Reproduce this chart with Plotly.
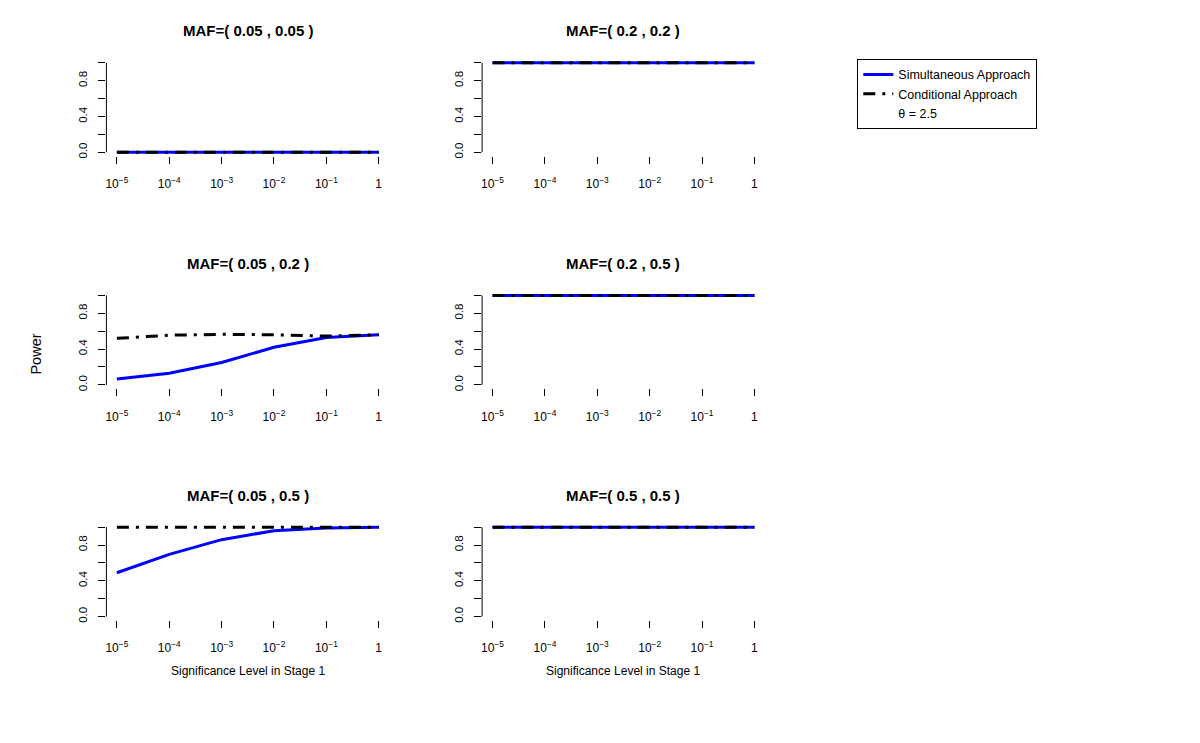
import math
import plotly.graph_objects as go

# ---------------- data ----------------
alpha = [1e-5, 1e-4, 1e-3, 1e-2, 1e-1, 1]
alpha_labels = ["10<sup>−5</sup>", "10<sup>−4</sup>", "10<sup>−3</sup>",
                "10<sup>−2</sup>", "10<sup>−1</sup>", "1"]
power_ticks = [0, 0.2, 0.4, 0.6, 0.8, 1.0]
power_labels = ["0.0", "", "0.4", "", "0.8", ""]

titles = ["MAF=( 0.05 , 0.05 )", "MAF=( 0.2 , 0.2 )",
          "MAF=( 0.05 , 0.2 )", "MAF=( 0.2 , 0.5 )",
          "MAF=( 0.05 , 0.5 )", "MAF=( 0.5 , 0.5 )"]

sim_005_005 = [0.0, 0.0, 0.0, 0.0, 0.0, 0.0]
cond_005_005 = [0.0, 0.0, 0.0, 0.0, 0.0, 0.0]
sim_02_02 = [1.0, 1.0, 1.0, 1.0, 1.0, 1.0]
cond_02_02 = [1.0, 1.0, 1.0, 1.0, 1.0, 1.0]
sim_005_02 = [0.065, 0.13, 0.25, 0.42, 0.53, 0.56]
cond_005_02 = [0.52, 0.555, 0.565, 0.56, 0.545, 0.56]
sim_02_05 = [1.0, 1.0, 1.0, 1.0, 1.0, 1.0]
cond_02_05 = [1.0, 1.0, 1.0, 1.0, 1.0, 1.0]
sim_005_05 = [0.49, 0.695, 0.86, 0.96, 0.99, 1.0]
cond_005_05 = [1.0, 1.0, 1.0, 1.0, 1.0, 1.0]
sim_05_05 = [1.0, 1.0, 1.0, 1.0, 1.0, 1.0]
cond_05_05 = [1.0, 1.0, 1.0, 1.0, 1.0, 1.0]

sim_series = [sim_005_005, sim_02_02, sim_005_02, sim_02_05, sim_005_05, sim_05_05]
cond_series = [cond_005_005, cond_02_02, cond_005_02, cond_02_05, cond_005_05, cond_05_05]

# ---------------- layout ----------------
OFF = 8                      # page body margin in the browser
W, H = 1200 - OFF, 743 - OFF
FONT = "Liberation Sans, Arial, Helvetica, sans-serif"


def px2x(px):
    return (px - OFF) / W


def py2y(py):
    return 1 - (py - OFF) / H


col_px = [(105.5, 388.5), (481.5, 764.5)]
row_px = [(59.4, 156.5), (293.0, 390.0), (525.7, 622.6)]

fig = go.Figure()
shapes = []
annotations = []

lx0, lx1 = math.log10(alpha[0]), math.log10(alpha[-1])
pad_x = 0.04 * (lx1 - lx0)

for i in range(6):
    r, c = divmod(i, 2)
    n = i + 1
    xa = "x" if n == 1 else f"x{n}"
    ya = "y" if n == 1 else f"y{n}"
    xkey = "xaxis" if n == 1 else f"xaxis{n}"
    ykey = "yaxis" if n == 1 else f"yaxis{n}"

    fig.add_trace(go.Scatter(
        x=alpha, y=sim_series[i], mode="lines",
        line=dict(color="#0000ff", width=3),
        name="Simultaneous Approach", showlegend=(i == 0),
        xaxis=xa, yaxis=ya))
    fig.add_trace(go.Scatter(
        x=alpha, y=cond_series[i], mode="lines",
        line=dict(color="black", width=3, dash="12px,7px,3px,7px"),
        name="Conditional Approach", showlegend=(i == 0),
        xaxis=xa, yaxis=ya))

    xd = [px2x(col_px[c][0]), px2x(col_px[c][1])]
    yd = [py2y(row_px[r][1]), py2y(row_px[r][0])]

    fig.layout[xkey] = dict(
        domain=xd, anchor=ya, type="log",
        range=[lx0 - pad_x, lx1 + pad_x],
        tickvals=alpha, ticktext=alpha_labels,
        ticks="outside", ticklen=7, tickwidth=1, tickcolor="black",
        showline=False, showgrid=False, zeroline=False,
        tickfont=dict(family=FONT, size=12, color="black"),
        ticklabelstandoff=10)
    fig.layout[ykey] = dict(
        domain=yd, anchor=xa,
        range=[-0.04, 1.04],
        tickvals=power_ticks, ticktext=power_labels, tickangle=-90,
        ticks="outside", ticklen=7, tickwidth=1, tickcolor="black",
        showline=False, showgrid=False, zeroline=False,
        tickfont=dict(family=FONT, size=11.5, color="black"),
        ticklabelstandoff=7)

    # R-style axis lines spanning first to last tick
    shapes.append(dict(type="line", xref=xa, yref=f"{ya} domain",
                       x0=lx0, x1=lx1, y0=0, y1=0,
                       line=dict(color="black", width=1)))
    shapes.append(dict(type="line", xref=f"{xa} domain", yref=ya,
                       x0=0, x1=0, y0=power_ticks[0], y1=power_ticks[-1],
                       line=dict(color="black", width=1)))

    annotations.append(dict(
        text="<b>" + titles[i] + "</b>", xref=f"{xa} domain", x=0.5,
        yref="paper", y=py2y(row_px[r][0] - 28.5),
        xanchor="center", yanchor="middle", showarrow=False,
        font=dict(family=FONT, size=15, color="black")))

# legend-only entry for theta
fig.add_trace(go.Scatter(x=[None], y=[None], mode="lines",
                         line=dict(color="rgba(0,0,0,0)", width=3),
                         name="θ = 2.5", showlegend=True))

for c in range(2):
    annotations.append(dict(
        text="Significance Level in Stage 1", xref="paper",
        x=px2x((col_px[c][0] + col_px[c][1]) / 2),
        yref="paper", y=py2y(674), xanchor="center", yanchor="middle",
        showarrow=False, font=dict(family=FONT, size=12, color="black")))

annotations.append(dict(
    text="Power", xref="paper", x=px2x(35), yref="paper", y=py2y(355),
    xanchor="center", yanchor="middle", textangle=-90, showarrow=False,
    font=dict(family=FONT, size=14.5, color="black")))

fig.update_layout(
    width=W, height=H,
    margin=dict(l=0, r=0, t=0, b=0),
    paper_bgcolor="white", plot_bgcolor="white",
    shapes=shapes, annotations=annotations,
    showlegend=True,
    legend=dict(x=px2x(857), y=py2y(59), xanchor="left", yanchor="top",
                bordercolor="black", borderwidth=1, bgcolor="white",
                font=dict(family=FONT, size=12.5, color="black"),
                traceorder="normal", itemwidth=30, tracegroupgap=0),
    font=dict(family=FONT, color="black"),
)

fig.write_html("out.html")
